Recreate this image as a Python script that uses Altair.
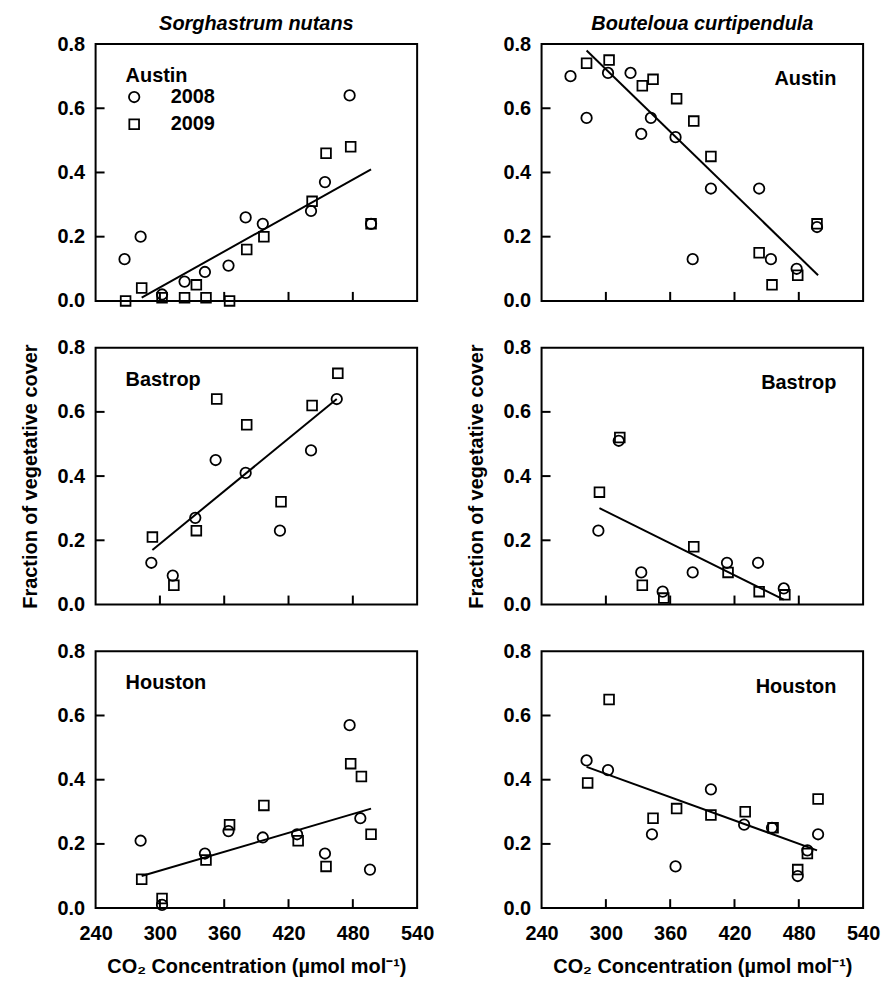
import altair as alt
import pandas as pd

FONT = "Liberation Sans"
X_DOMAIN = [240, 540]
Y_DOMAIN = [0, 0.8]
X_TICKS = [240, 300, 360, 420, 480, 540]
Y_TICKS = [0.0, 0.2, 0.4, 0.6, 0.8]
INNER_X = [300, 360, 420, 480]
INNER_Y = [0.2, 0.4, 0.6]
W, H = 323, 258

SPECIES = ["Sorghastrum nutans", "Bouteloua curtipendula"]
SITES = ["Austin", "Bastrop", "Houston"]
X_TITLE = "CO₂ Concentration (µmol mol⁻¹)"
Y_TITLE = "Fraction of vegetative cover"

# ---- Sorghastrum nutans ----
sn_aus_2008_x = [267, 282, 302, 323, 342, 364, 380, 396, 441, 454, 477, 497]
sn_aus_2008_y = [0.13, 0.20, 0.02, 0.06, 0.09, 0.11, 0.26, 0.24, 0.28, 0.37, 0.64, 0.24]
sn_aus_2009_x = [268, 283, 302, 323, 334, 343, 365, 381, 397, 442, 455, 478, 497]
sn_aus_2009_y = [0.00, 0.04, 0.01, 0.01, 0.05, 0.01, 0.00, 0.16, 0.20, 0.31, 0.46, 0.48, 0.24]
sn_aus_fit_x = [283, 497]
sn_aus_fit_y = [0.01, 0.41]

sn_bas_2008_x = [292, 312, 333, 352, 380, 412, 441, 465]
sn_bas_2008_y = [0.13, 0.09, 0.27, 0.45, 0.41, 0.23, 0.48, 0.64]
sn_bas_2009_x = [293, 313, 334, 353, 381, 413, 442, 466]
sn_bas_2009_y = [0.21, 0.06, 0.23, 0.64, 0.56, 0.32, 0.62, 0.72]
sn_bas_fit_x = [293, 465]
sn_bas_fit_y = [0.17, 0.64]

sn_hou_2008_x = [282, 302, 342, 364, 396, 428, 454, 477, 487, 496]
sn_hou_2008_y = [0.21, 0.01, 0.17, 0.24, 0.22, 0.23, 0.17, 0.57, 0.28, 0.12]
sn_hou_2009_x = [283, 302, 343, 365, 397, 429, 455, 478, 488, 497]
sn_hou_2009_y = [0.09, 0.03, 0.15, 0.26, 0.32, 0.21, 0.13, 0.45, 0.41, 0.23]
sn_hou_fit_x = [283, 497]
sn_hou_fit_y = [0.10, 0.31]

# ---- Bouteloua curtipendula ----
bc_aus_2008_x = [267, 282, 302, 323, 333, 342, 365, 381, 398, 443, 454, 478, 497]
bc_aus_2008_y = [0.70, 0.57, 0.71, 0.71, 0.52, 0.57, 0.51, 0.13, 0.35, 0.35, 0.13, 0.10, 0.23]
bc_aus_2009_x = [282, 303, 334, 344, 366, 382, 398, 443, 455, 479, 497]
bc_aus_2009_y = [0.74, 0.75, 0.67, 0.69, 0.63, 0.56, 0.45, 0.15, 0.05, 0.08, 0.24]
bc_aus_fit_x = [282, 498]
bc_aus_fit_y = [0.78, 0.08]

bc_bas_2008_x = [293, 312, 333, 353, 381, 413, 442, 466]
bc_bas_2008_y = [0.23, 0.51, 0.10, 0.04, 0.10, 0.13, 0.13, 0.05]
bc_bas_2009_x = [294, 313, 334, 354, 382, 414, 443, 467]
bc_bas_2009_y = [0.35, 0.52, 0.06, 0.02, 0.18, 0.10, 0.04, 0.03]
bc_bas_fit_x = [294, 466]
bc_bas_fit_y = [0.30, 0.015]

bc_hou_2008_x = [282, 302, 343, 365, 398, 429, 455, 479, 488, 498]
bc_hou_2008_y = [0.46, 0.43, 0.23, 0.13, 0.37, 0.26, 0.25, 0.10, 0.18, 0.23]
bc_hou_2009_x = [283, 303, 344, 366, 398, 430, 456, 479, 488, 498]
bc_hou_2009_y = [0.39, 0.65, 0.28, 0.31, 0.29, 0.30, 0.25, 0.12, 0.17, 0.34]
bc_hou_fit_x = [282, 497]
bc_hou_fit_y = [0.44, 0.18]

PANELS = [
    [(sn_aus_2008_x, sn_aus_2008_y, sn_aus_2009_x, sn_aus_2009_y, sn_aus_fit_x, sn_aus_fit_y),
     (bc_aus_2008_x, bc_aus_2008_y, bc_aus_2009_x, bc_aus_2009_y, bc_aus_fit_x, bc_aus_fit_y)],
    [(sn_bas_2008_x, sn_bas_2008_y, sn_bas_2009_x, sn_bas_2009_y, sn_bas_fit_x, sn_bas_fit_y),
     (bc_bas_2008_x, bc_bas_2008_y, bc_bas_2009_x, bc_bas_2009_y, bc_bas_fit_x, bc_bas_fit_y)],
    [(sn_hou_2008_x, sn_hou_2008_y, sn_hou_2009_x, sn_hou_2009_y, sn_hou_fit_x, sn_hou_fit_y),
     (bc_hou_2008_x, bc_hou_2008_y, bc_hou_2009_x, bc_hou_2009_y, bc_hou_fit_x, bc_hou_fit_y)],
]

# annotation anchor positions (data units)
LABEL_LEFT = (268, 0.70)
LABEL_RIGHT = (515, 0.69)
LEG_SYM_X = 276
LEG_TXT_X = 310
LEG_Y = [0.635, 0.55]

xs = alt.Scale(domain=X_DOMAIN, nice=False, zero=False)
ys = alt.Scale(domain=Y_DOMAIN, nice=False, zero=False)
shape_scale = alt.Scale(domain=["2008", "2009"], range=["circle", "square"])
size_scale = alt.Scale(domain=["2008", "2009"], range=[110, 95])


def make_panel(row, col):
    d08x, d08y, d09x, d09y, fx, fy = PANELS[row][col]
    bottom = row == 2
    xaxis = alt.Axis(
        values=X_TICKS, format="d", labels=bottom, ticks=False, tickSize=0,
        domain=False, grid=False, labelFont=FONT, labelFontSize=20,
        labelFontWeight="bold", labelColor="black", labelPadding=16,
        labelFlush=False,
        title=X_TITLE if bottom else None, titleFont=FONT, titleFontSize=20,
        titleFontWeight="bold", titleColor="black", titlePadding=13,
    )
    yaxis = alt.Axis(
        values=Y_TICKS, format=".1f", ticks=False, tickSize=0, domain=False,
        grid=False, labelFont=FONT, labelFontSize=20, labelFontWeight="bold",
        labelColor="black", labelPadding=11,
        title=Y_TITLE if row == 1 else None, titleFont=FONT, titleFontSize=20,
        titleFontWeight="bold", titleColor="black", titlePadding=17,
    )
    X = lambda f: alt.X(f, scale=xs, axis=xaxis)
    Y = lambda f: alt.Y(f, scale=ys, axis=yaxis)

    pts_df = pd.DataFrame({
        "co2": list(d08x) + list(d09x),
        "cover": list(d08y) + list(d09y),
        "year": ["2008"] * len(d08x) + ["2009"] * len(d09x),
    })
    fit_df = pd.DataFrame({"co2": fx, "cover": fy})

    fit = alt.Chart(fit_df).mark_line(color="black", strokeWidth=2).encode(
        x=X("co2:Q"), y=Y("cover:Q"))
    pts = alt.Chart(pts_df).mark_point(
        filled=False, color="black", strokeWidth=1.8, opacity=1
    ).encode(
        x=X("co2:Q"), y=Y("cover:Q"),
        shape=alt.Shape("year:N", scale=shape_scale, legend=None),
        size=alt.Size("year:N", scale=size_scale, legend=None),
    )
    xt = alt.Chart(pd.DataFrame({"t": INNER_X})).mark_rule(
        color="black", strokeWidth=2).encode(
        x=X("t:Q"), y=alt.value(H), y2=alt.value(H - 9))
    yt = alt.Chart(pd.DataFrame({"t": INNER_Y})).mark_rule(
        color="black", strokeWidth=2).encode(
        y=Y("t:Q"), x=alt.value(0), x2=alt.value(9))

    if col == 0:
        lx, ly = LABEL_LEFT
        align = "left"
    else:
        lx, ly = LABEL_RIGHT
        align = "right"
    site = alt.Chart(pd.DataFrame({"co2": [lx], "cover": [ly], "txt": [SITES[row]]})).mark_text(
        align=align, baseline="middle", font=FONT, fontSize=20,
        fontWeight="bold", color="black").encode(
        x=X("co2:Q"), y=Y("cover:Q"), text="txt:N")

    layers = [fit, pts, xt, yt, site]

    if row == 0 and col == 0:
        leg_sym = pd.DataFrame({"co2": [LEG_SYM_X, LEG_SYM_X], "cover": LEG_Y,
                                "year": ["2008", "2009"]})
        leg_pts = alt.Chart(leg_sym).mark_point(
            filled=False, color="black", strokeWidth=1.8, opacity=1).encode(
            x=X("co2:Q"), y=Y("cover:Q"),
            shape=alt.Shape("year:N", scale=shape_scale, legend=None),
            size=alt.Size("year:N", scale=size_scale, legend=None))
        leg_txt = alt.Chart(pd.DataFrame({"co2": [LEG_TXT_X, LEG_TXT_X], "cover": LEG_Y,
                                          "txt": ["2008", "2009"]})).mark_text(
            align="left", baseline="middle", font=FONT, fontSize=20,
            fontWeight="bold", color="black").encode(
            x=X("co2:Q"), y=Y("cover:Q"), text="txt:N")
        layers += [leg_pts, leg_txt]

    props = dict(width=W, height=H)
    if row == 0:
        props["title"] = alt.TitleParams(
            SPECIES[col], font=FONT, fontSize=20, fontStyle="italic",
            fontWeight="bold", color="black", anchor="middle", offset=0)
    return alt.layer(*layers).properties(**props)


panels = [make_panel(r, c) for r in range(3) for c in range(2)]

chart = alt.concat(
    *panels, columns=2, spacing={"row": 47, "column": 125}, bounds="flush"
).properties(
    padding={"left": 11, "top": 3, "right": 5, "bottom": 2},
    background="white",
).configure_view(
    stroke="black", strokeWidth=2
)

chart.save("out.html", embed_options={"renderer": "svg", "actions": False})
